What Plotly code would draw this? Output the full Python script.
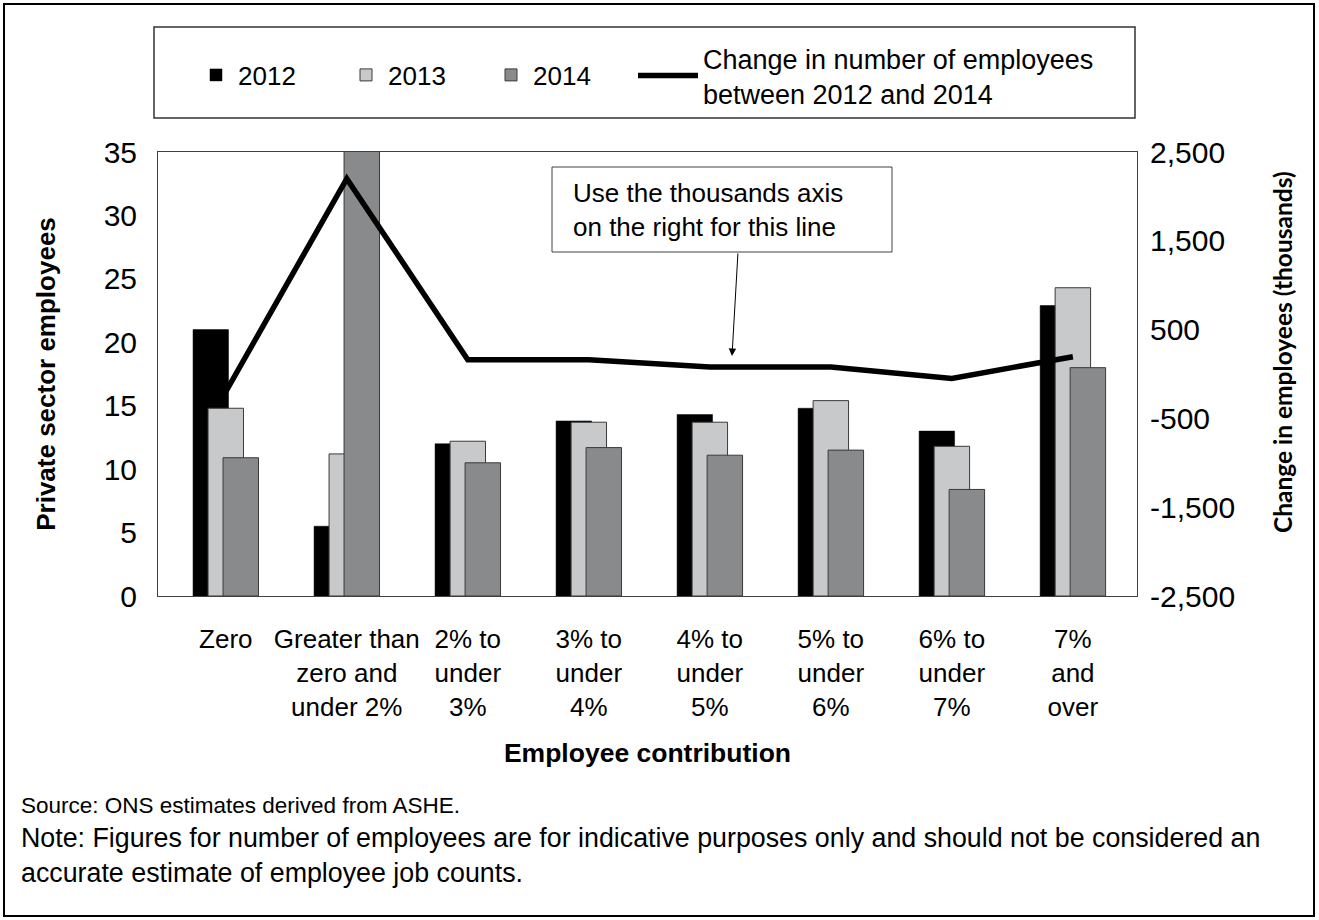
import plotly.graph_objects as go

# --- data -------------------------------------------------------------
categories = [
    "Zero",
    "Greater than<br>zero and<br>under 2%",
    "2% to<br>under<br>3%",
    "3% to<br>under<br>4%",
    "4% to<br>under<br>5%",
    "5% to<br>under<br>6%",
    "6% to<br>under<br>7%",
    "7%<br>and<br>over",
]
employees_2012 = [21.0, 5.5, 12.0, 13.8, 14.3, 14.8, 13.0, 22.9]
employees_2013 = [14.8, 11.2, 12.2, 13.7, 13.7, 15.4, 11.8, 24.3]
employees_2014 = [10.9, 35.5, 10.5, 11.7, 11.1, 11.5, 8.4, 18.0]
change_2012_2014 = [-200, 2200, 160, 160, 80, 80, -50, 195]

left_ticks = [0, 5, 10, 15, 20, 25, 30, 35]
right_tickvals = [-2500, -1500, -500, 500, 1500, 2500]
right_ticktext = ["-2,500", "-1,500", "-500", "500", "1,500", "2,500"]

# --- layout geometry (pixels) -----------------------------------------
W, H = 1319, 920
PL, PR, PT, PB = 158, 1137, 152, 596          # plot area edges
PW, PH = PR - PL, PB - PT


def px(x):
    return (x - PL) / PW


def py(y):
    return (PB - y) / PH


FONT = "Liberation Sans, Arial, sans-serif"
BAR_W = 0.293
STEP = 0.124
EDGE = "#3a3a3a"

fig = go.Figure()

fig.add_trace(go.Bar(
    x=categories, y=employees_2012, name="2012",
    marker=dict(color="#000000", line=dict(color="#000000", width=0.5)),
    width=BAR_W, offset=-BAR_W / 2 - STEP, legendwidth=101,
))
fig.add_trace(go.Bar(
    x=categories, y=employees_2013, name="2013",
    marker=dict(color="#c8c9ca", line=dict(color=EDGE, width=1)),
    width=BAR_W, offset=-BAR_W / 2, legendwidth=96,
))
fig.add_trace(go.Bar(
    x=categories, y=employees_2014, name="2014",
    marker=dict(color="#898a8c", line=dict(color=EDGE, width=1)),
    width=BAR_W, offset=-BAR_W / 2 + STEP,
))
fig.add_trace(go.Scatter(
    x=categories, y=change_2012_2014, yaxis="y2", mode="lines",
    name="Change in number of employees<br>between 2012 and 2014",
    line=dict(color="#000000", width=5.5),
    legend="legend2",
))

fig.update_layout(
    width=W, height=H,
    margin=dict(l=PL, r=W - PR, t=PT, b=H - PB, pad=0),
    paper_bgcolor="white", plot_bgcolor="white",
    barmode="overlay",
    font=dict(family=FONT, color="#000000", size=26),
    showlegend=True,
    legend=dict(
        orientation="h", x=px(194), xanchor="left",
        y=py(75), yanchor="middle",
        font=dict(size=26, family=FONT), itemwidth=34,
        bgcolor="rgba(0,0,0,0)", borderwidth=0, traceorder="normal",
    ),
    legend2=dict(
        orientation="h", x=px(633), xanchor="left",
        y=py(76), yanchor="middle",
        font=dict(size=27, family=FONT), itemwidth=60,
        bgcolor="rgba(0,0,0,0)", borderwidth=0,
    ),
    xaxis=dict(
        type="category", range=[-0.56, 7.53],
        showline=True, mirror=True, linecolor="#404040", linewidth=1,
        showgrid=False, ticks="", tickfont=dict(size=26),
        ticklabelstandoff=20,
        title=dict(text="<b>Employee contribution</b>",
                   font=dict(size=26.5), standoff=22),
    ),
    yaxis=dict(
        range=[0, 35], tickvals=left_ticks,
        showline=True, mirror=True, linecolor="#404040", linewidth=1,
        showgrid=False, zeroline=False, ticks="",
        tickfont=dict(size=30), ticklabelstandoff=14,
        title=dict(text="<b>Private sector employees</b>",
                   font=dict(size=26), standoff=40),
    ),
    yaxis2=dict(
        overlaying="y", side="right", range=[-2500, 2500],
        tickvals=right_tickvals, ticktext=right_ticktext,
        showgrid=False, zeroline=False, showline=False, ticks="",
        tickfont=dict(size=30), ticklabelstandoff=12,
    ),
)

shapes = [
    # outer frame
    dict(type="rect", xref="paper", yref="paper",
         x0=px(4), x1=px(1314), y0=py(916), y1=py(4),
         line=dict(color="#000000", width=2), fillcolor="rgba(0,0,0,0)",
         layer="below"),
    # legend frame
    dict(type="rect", xref="paper", yref="paper",
         x0=px(154), x1=px(1135), y0=py(118), y1=py(27),
         line=dict(color="#333333", width=1.5), fillcolor="rgba(0,0,0,0)"),
    # call-out box
    dict(type="rect", xref="paper", yref="paper",
         x0=px(552), x1=px(892), y0=py(252), y1=py(167),
         line=dict(color="#404040", width=1), fillcolor="white",
         layer="above"),
]
fig.update_layout(shapes=shapes)

annotations = [
    dict(text="Use the thousands axis<br>on the right for this line",
         xref="paper", yref="paper", x=px(571), y=py(210),
         xanchor="left", yanchor="middle", align="left",
         showarrow=False, font=dict(size=26, family=FONT)),
    dict(text="", xref="paper", yref="paper", x=px(732), y=py(356),
         ax=6, ay=-104, showarrow=True, arrowhead=2, arrowsize=1.5,
         arrowwidth=1, arrowcolor="#000000", standoff=0),
    dict(text="<b>Change in employees (thousands)</b>",
         xref="paper", yref="paper", x=px(1282), y=py(352),
         xanchor="center", yanchor="middle", textangle=-90,
         showarrow=False, font=dict(size=24.5, family="Lato, sans-serif")),
    dict(text="Source: ONS estimates derived from ASHE.",
         xref="paper", yref="paper", x=px(19), y=py(805),
         xanchor="left", yanchor="middle", align="left",
         showarrow=False, font=dict(size=22.5, family=FONT)),
    dict(text="Note: Figures for number of employees are for indicative "
              "purposes only and should not be considered an<br>"
              "accurate estimate of employee job counts.",
         xref="paper", yref="paper", x=px(19), y=py(855),
         xanchor="left", yanchor="middle", align="left",
         showarrow=False, font=dict(size=26.8, family=FONT)),
]
fig.update_layout(annotations=annotations)

fig.write_html("out.html")
